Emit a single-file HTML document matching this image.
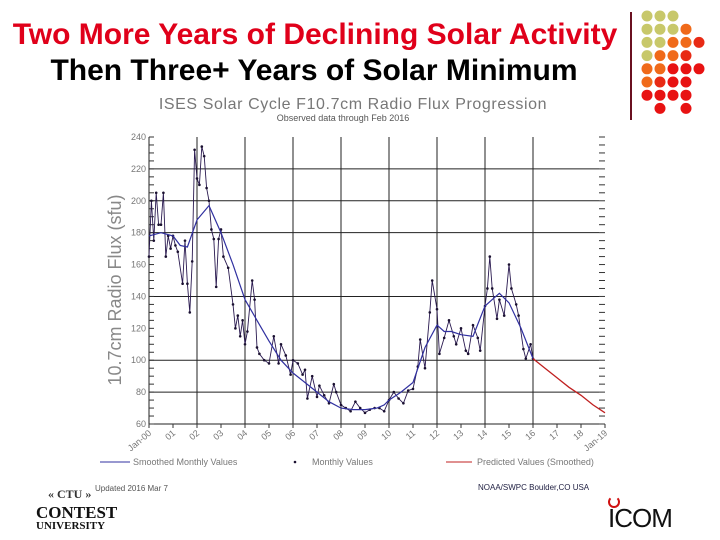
<!DOCTYPE html>
<html><head><meta charset="utf-8">
<style>
body{margin:0;background:#fff;}
#wrap{position:relative;width:720px;height:540px;overflow:hidden;background:#fff;font-family:"Liberation Sans",sans-serif;}
.t{position:absolute;white-space:nowrap;}
</style></head><body>
<div id="wrap">
<div class="t" style="left:0;width:630px;text-align:center;top:18px;font-size:30px;font-weight:bold;color:#e0001a;">Two More Years of Declining Solar Activity</div>
<div class="t" style="left:0;width:628px;text-align:center;top:54px;font-size:30px;font-weight:bold;color:#000;">Then Three+ Years of Solar Minimum</div>
<div style="position:absolute;left:630px;top:12px;width:2px;height:108px;background:#6a1020;"></div>
<svg id="dots" width="720" height="540" style="position:absolute;left:0;top:0"></svg>
<svg id="chart" width="720" height="540" style="position:absolute;left:0;top:0"></svg>
<div class="t" style="left:95px;top:484px;font-size:8px;color:#555;">Updated 2016 Mar 7</div>
<div class="t" style="left:478px;top:483px;font-size:8px;color:#224;">NOAA/SWPC Boulder,CO USA</div>
<div class="t" style="left:48px;top:487px;font-size:12px;font-family:'Liberation Serif',serif;font-weight:bold;color:#333;">« CTU »</div>
<div class="t" style="left:36px;top:503px;font-size:17px;font-family:'Liberation Serif',serif;font-weight:bold;color:#111;">CONTEST</div>
<div class="t" style="left:36px;top:520px;font-size:11px;font-family:'Liberation Serif',serif;font-weight:bold;color:#111;">UNIVERSITY</div>
<div class="t" style="left:608px;top:503px;font-size:26px;color:#111;letter-spacing:-1px;">ICOM</div>
<div style="position:absolute;left:608px;top:496px;width:8px;height:8px;border:2px solid #d01010;border-top-color:transparent;border-radius:50%;"></div>
</div>
<script>
const NS='http://www.w3.org/2000/svg';
function mk(parent,tag,attrs){const e=document.createElementNS(NS,tag);for(const k in attrs)e.setAttribute(k,attrs[k]);parent.appendChild(e);return e;}
const dotRows=["ggg","gggo","ggooR","gooR","ooRRR","oRRR","RRRR","_R_R"];
const dotColors={g:"#c8c86a",o:"#f06a1a",R:"#e82a14"};
const dsv=document.getElementById('dots');
dotRows.forEach((row,r)=>{[...row].forEach((c,i)=>{if(c==='_')return;
 const d=mk(dsv,'circle',{cx:647+i*13,cy:16+r*13.2,r:5.5,fill:(r>=6||(r>=4&&i>=2))&&c==='R'?"#e81212":dotColors[c]});
 
 });});

const smoothX=[2000.0,2000.5,2001.0,2001.3,2001.6,2002.0,2002.5,2003.0,2003.5,2004.0,2004.5,2005.0,2005.5,2006.0,2006.5,2007.0,2007.5,2008.0,2008.5,2009.0,2009.5,2009.8,2010.0,2010.5,2011.0,2011.5,2012.0,2012.3,2012.6,2013.0,2013.5,2014.0,2014.3,2014.6,2015.0,2015.5,2016.0];
const smoothV=[178,180,178,172,171,188,197,180,160,138,125,112,100,92,86,80,74,70,69,69,70,72,75,80,86,108,122,118,118,116,115,134,138,142,136,120,101];
const predX=[2016.0,2016.5,2017.0,2017.5,2018.0,2018.5,2019.0];
const predV=[101,95,89,83,78,72,67];
const monthX=[2000.0,2000.1,2000.2,2000.3,2000.4,2000.5,2000.6,2000.7,2000.8,2000.9,2001.0,2001.1,2001.2,2001.4,2001.5,2001.6,2001.7,2001.8,2001.9,2002.0,2002.1,2002.2,2002.3,2002.4,2002.5,2002.6,2002.7,2002.8,2002.9,2003.0,2003.1,2003.3,2003.5,2003.6,2003.7,2003.8,2003.9,2004.0,2004.1,2004.3,2004.4,2004.5,2004.6,2004.8,2005.0,2005.2,2005.4,2005.5,2005.7,2005.9,2006.0,2006.2,2006.4,2006.5,2006.6,2006.8,2007.0,2007.1,2007.3,2007.5,2007.7,2007.8,2008.0,2008.2,2008.4,2008.6,2008.8,2009.0,2009.2,2009.4,2009.6,2009.8,2010.0,2010.2,2010.4,2010.6,2010.8,2011.0,2011.2,2011.3,2011.5,2011.7,2011.8,2012.0,2012.1,2012.3,2012.5,2012.7,2012.8,2013.0,2013.2,2013.3,2013.5,2013.7,2013.8,2014.0,2014.1,2014.2,2014.3,2014.5,2014.6,2014.8,2015.0,2015.1,2015.3,2015.4,2015.6,2015.7,2015.9,2016.0];
const monthV=[165,200,175,205,185,185,205,165,178,170,178,172,168,148,175,148,130,162,232,214,210,234,228,208,200,182,176,146,176,182,165,158,135,120,128,115,125,110,118,150,138,108,104,100,98,115,98,110,103,91,100,98,91,94,76,90,77,84,78,73,85,80,72,70,68,74,70,67,69,70,70,68,75,80,76,73,81,82,96,113,95,130,150,132,104,114,125,115,110,120,106,104,122,114,106,134,145,165,145,126,138,128,160,145,135,128,107,101,110,101];
const yTicks=[60,80,100,120,140,160,180,200,220,240];
const yTickLabels=["60","80","100","120","140","160","180","200","220","240"];
const xTicks=[2000,2001,2002,2003,2004,2005,2006,2007,2008,2009,2010,2011,2012,2013,2014,2015,2016,2017,2018,2019];
const xTickLabels=["Jan-00","01","02","03","04","05","06","07","08","09","10","11","12","13","14","15","16","17","18","Jan-19"];
const hGrid=[80,100,140,180,200,220];
const vGrid=[2002,2004,2006,2008,2010,2012,2014,2016];

const X0=149,X1=605,Y0=424,Y1=137;
const xs=v=>X0+(v-2000)/19*(X1-X0);
const ys=v=>Y0-(v-60)/180*(Y0-Y1);
const c=document.getElementById('chart');
function txt(x,y,s,attrs,name){const t=mk(c,'text',Object.assign({x:x,y:y,'font-family':'Liberation Sans, sans-serif',fill:'#555'},attrs));t.textContent=s;return t;}
txt(353,109,'ISES Solar Cycle F10.7cm Radio Flux Progression',{'font-size':16,'letter-spacing':0.6,'text-anchor':'middle',fill:'#777'},'chart-title');
txt(343,121,'Observed data through Feb 2016',{'font-size':9,'text-anchor':'middle',fill:'#555'},'chart-subtitle');
txt(0,0,'10.7cm Radio Flux (sfu)',{'font-size':18,'text-anchor':'middle',transform:'translate(121,290) rotate(-90)',fill:'#888'},'y-axis-title');
hGrid.forEach(v=>{const l=mk(c,'line',{x1:X0,x2:X1-6,y1:ys(v),y2:ys(v),stroke:'#222','stroke-width':1});});
vGrid.forEach(v=>{const l=mk(c,'line',{x1:xs(v),x2:xs(v),y1:Y1,y2:Y0,stroke:'#222','stroke-width':1});});
mk(c,'line',{x1:X0,x2:X0,y1:Y1,y2:Y0,stroke:'#222'});
mk(c,'line',{x1:X0,x2:X1,y1:Y0,y2:Y0,stroke:'#222'});
for(let v=60;v<=240;v+=5){const y=ys(v);
 const a=mk(c,'line',{x1:X0,x2:X0+5,y1:y,y2:y,stroke:'#333'});
 const b=mk(c,'line',{x1:X1-6,x2:X1,y1:y,y2:y,stroke:'#333'});}
yTicks.forEach((v,i)=>txt(X0-3,ys(v)+3,yTickLabels[i],{'font-size':9,'text-anchor':'end',fill:'#777'},'y-tick-label'));
xTicks.forEach((v,i)=>{const x=xs(v);const tk=mk(c,'line',{x1:x,x2:x,y1:Y0,y2:Y0+4,stroke:'#333'});
 txt(0,0,xTickLabels[i],{'font-size':9,'text-anchor':'end',fill:'#777',transform:`translate(${x+3},${Y0+10}) rotate(-40)`},'x-tick-label');});
const mp=monthX.map((x,i)=>xs(x).toFixed(1)+','+ys(monthV[i]).toFixed(1)).join(' ');
const ml=mk(c,'polyline',{points:mp,fill:'none',stroke:'#2a1a50','stroke-width':0.9});

monthX.forEach((x,i)=>{const d=mk(c,'circle',{cx:xs(x),cy:ys(monthV[i]),r:1.3,fill:'#1a1030'});});
const sp=smoothX.map((x,i)=>xs(x).toFixed(1)+','+ys(smoothV[i]).toFixed(1)).join(' ');
const sl=mk(c,'polyline',{points:sp,fill:'none',stroke:'#3030a0','stroke-width':1.2});

const pp=predX.map((x,i)=>xs(x).toFixed(1)+','+ys(predV[i]).toFixed(1)).join(' ');
const pl=mk(c,'polyline',{points:pp,fill:'none',stroke:'#c02020','stroke-width':1.3});

const lg1=mk(c,'line',{x1:100,x2:130,y1:462,y2:462,stroke:'#3030a0'});
txt(133,465,'Smoothed Monthly Values',{'font-size':9,fill:'#777'},'legend-smoothed');
const lg2=mk(c,'circle',{cx:295,cy:462,r:1.3,fill:'#1a1030'});
txt(312,465,'Monthly Values',{'font-size':9,fill:'#777'},'legend-monthly');
const lg3=mk(c,'line',{x1:446,x2:472,y1:462,y2:462,stroke:'#c02020'});
txt(477,465,'Predicted Values (Smoothed)',{'font-size':9,fill:'#777'},'legend-predicted');
</script>
</body></html>
